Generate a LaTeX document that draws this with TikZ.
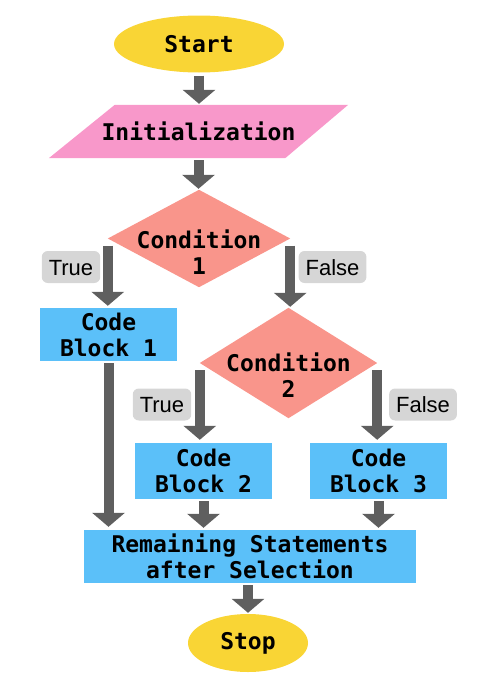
\documentclass[tikz,border=0pt]{standalone}
\usepackage{fontspec}
\setmainfont{Liberation Sans}
\setmonofont{DejaVu Sans Mono}
\usetikzlibrary{shapes.geometric,arrows.meta,backgrounds}
\definecolor{cyellow}{HTML}{F9D535}
\definecolor{cpink}{HTML}{F898CA}
\definecolor{csalmon}{HTML}{F9958B}
\definecolor{cblue}{HTML}{5BC0F9}
\definecolor{cgray}{HTML}{D6D6D6}
\definecolor{carrow}{HTML}{5F5F5F}
\begin{document}
\begin{tikzpicture}[x=1pt,y=-1pt,
  txt/.style={font=\ttfamily\bfseries\fontsize{23}{26}\selectfont, align=center, text=black},
  term/.style={ellipse, fill=cyellow, inner sep=0pt, txt},
  proc/.style={rectangle, fill=cblue, inner sep=0pt, txt},
  lbl/.style={fill=cgray, rounded corners=6pt, font=\fontsize{22}{26}\selectfont, inner xsep=7pt, inner ysep=8pt, text height=16pt, text depth=0pt},
  flow/.style={draw=carrow, line width=10pt, -{Triangle[width=32pt,length=14pt]}, shorten <=2pt, shorten >=2pt}]
\useasboundingbox (0,0) rectangle (500,688);

\node[term, minimum width=170pt, minimum height=57pt] (start) at (199,44) {Start};
\node[txt, minimum width=299pt, minimum height=53pt, inner sep=0pt] (init) at (198.5,131.5) {Initialization};
\node[minimum width=182pt, minimum height=97pt, inner sep=0pt] (c1) at (199,238.5) {};
\node[txt] (c1t) at (199,252) {Condition\\1};
\node[proc, minimum width=137pt, minimum height=53pt] (cb1) at (108.5,334.5) {Code\\Block 1};
\node[minimum width=177pt, minimum height=110pt, inner sep=0pt] (c2) at (288.5,363) {};
\node[txt] (c2t) at (288.5,375) {Condition\\2};
\node[proc, minimum width=137pt, minimum height=56pt] (cb2) at (203.5,471) {Code\\Block 2};
\node[proc, minimum width=137pt, minimum height=56pt] (cb3) at (378.5,471) {Code\\Block 3};
\node[proc, minimum width=332pt, minimum height=53pt] (rem) at (250,556.5) {Remaining Statements\\after Selection};
\node[term, minimum width=120pt, minimum height=58pt] (stop) at (248,643) {Stop};

\node[lbl] (t1) at (71,267) {True};
\node[lbl] (f1) at (332.5,267) {False};
\node[lbl] (t2) at (162,404.5) {True};
\node[lbl] (f2) at (423,404.5) {False};

\begin{scope}[on background layer]
\fill[cpink] ([xshift=66pt]init.north west) -- (init.north east) -- ([xshift=-63pt]init.south east) -- (init.south west) -- cycle;
\fill[csalmon] (c1.north) -- (c1.east) -- (c1.south) -- (c1.west) -- cycle;
\fill[csalmon] (c2.north) -- (c2.east) -- (c2.south) -- (c2.west) -- cycle;
\end{scope}

\draw[flow, shorten <=3pt, shorten >=1pt] (start.south) -- (start.south |- init.north);
\draw[flow, shorten >=1pt] (init.south) -- (init.south |- c1.north);
\draw[flow] ([yshift=-5pt]c1.west) -- (c1.west |- cb1.north);
\draw[flow, shorten >=1pt] ([yshift=-5pt]c1.east) -- (c1.east |- c2.north);
\draw[flow, shorten >=3pt] (cb1.south) -- (cb1.south |- rem.north);
\draw[flow, shorten >=3pt] ([yshift=-5pt]c2.west) -- (c2.west |- cb2.north);
\draw[flow, shorten >=3pt] ([yshift=-5pt]c2.east) -- (c2.east |- cb3.north);
\draw[flow] (cb2.south) -- (cb2.south |- rem.north);
\draw[flow] (cb3.south) -- (cb3.south |- rem.north);
\draw[flow, shorten >=1pt] (stop.north |- rem.south) -- (stop.north);
\end{tikzpicture}
\end{document}
